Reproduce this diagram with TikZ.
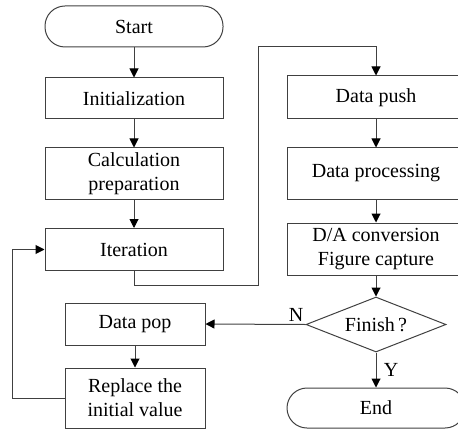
\documentclass[tikz,border=0pt]{standalone}
\usepackage{fontspec}
\setmainfont{Liberation Serif}
\usetikzlibrary{shapes.geometric,arrows.meta}

\begin{document}
\begin{tikzpicture}[x=0.5pt, y=-0.5pt,
        every node/.style={font=\fontsize{10}{12}\selectfont, align=center, inner sep=0pt},
        caja/.style={draw=black!75, line width=0.5pt, rectangle, minimum width=89pt, minimum height=20.5pt},
        cajita/.style={caja, minimum width=70pt},
        terminal/.style={caja, rounded corners=10pt},
        decision/.style={draw=black!75, line width=0.5pt, diamond, aspect=2.5, minimum width=70pt, minimum height=27.5pt},
        linea/.style={draw=black!75, line width=0.5pt},
        flecha/.style={linea, -{Triangle[length=4.5pt,width=4.5pt,color=black]}}]
        \useasboundingbox (0,0) rectangle (458,432);
        %%%%%%%%%%%%%%%%%%%%%%%% Columna izquierda %%%%%%%%%%%%%%%%%%%%%%%%%%%%%%%
        \node[terminal] (start) at (134,26.5) {Start};
        \node[caja] (init) at (134,98.5) {Initialization};
        \node[caja, minimum height=25.5pt] (calc) at (134,173.5) {Calculation\\preparation};
        \node[caja, minimum height=21pt] (iter) at (134,249.5) {Iteration};
        %%%%%%%%%%%%%%%%%%%%%%%% Columna derecha %%%%%%%%%%%%%%%%%%%%%%%%%%%%%%%%%
        \node[caja, minimum height=21.5pt] (push) at (376,97.5) {Data push};
        \node[caja, minimum height=25.5pt] (proc) at (376,173.5) {Data processing};
        \node[caja, minimum height=26pt] (conv) at (376,249) {D/A conversion\\Figure capture};
        \node[decision] (finish) at (376,324.5) {Finish\,?};
        \node[terminal, minimum height=20pt] (end) at (376,408) {End};
        %%%%%%%%%%%%%%%%%%%%%%%% Rama de retorno %%%%%%%%%%%%%%%%%%%%%%%%%%%%%%%%%
        \node[cajita, minimum height=21pt] (pop) at (135,324) {Data pop};
        \node[cajita, minimum height=30pt] (repl) at (135,398) {Replace the\\initial value};
        %%%%%%%%%%%%%%%%%%%%%%%% Flechas %%%%%%%%%%%%%%%%%%%%%%%%%%%%%%%%%%%%%%%%%
        \draw[flecha] (start) -- (init);
        \draw[flecha] (init) -- (calc);
        \draw[flecha] (calc) -- (iter);
        \coordinate (bajo) at (258,285); %esquina bajo Iteration
        \coordinate (alto) at (258,47); %esquina arriba
        \draw[flecha] (iter.south) |- (bajo) -- (alto) -| (push.north);
        \draw[flecha] (push) -- (proc);
        \draw[flecha] (proc) -- (conv);
        \draw[flecha] (conv) -- (finish);
        \draw[flecha] (finish.south) -- (end.north);
        \draw[flecha] (finish.west) -- (pop.east);
        \draw[flecha] (pop) -- (repl);
        \coordinate (izq) at (12,398); %vuelta a Iteration
        \draw[flecha] (repl.west) -- (izq) |- (iter.west);
        \node (no) at (296,315) {N};
        \node (si) at (391,370) {Y};
      \end{tikzpicture}
\end{document}
